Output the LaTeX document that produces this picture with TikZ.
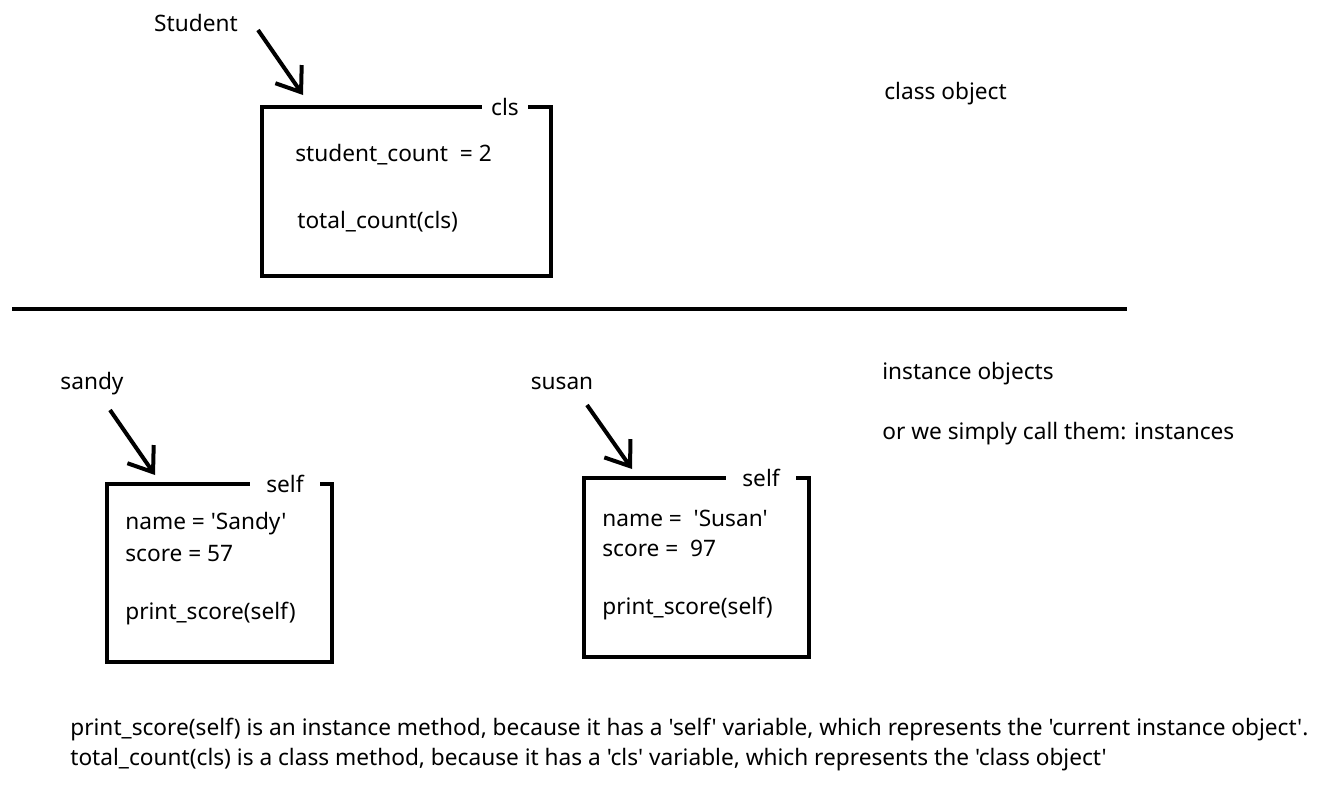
\documentclass[tikz,border=0pt]{standalone}
\usepackage{fontspec}
\setmainfont{Noto Sans}[Ligatures=TeXOff]
\usetikzlibrary{arrows.meta,calc,fit,positioning}

\begin{document}
\begin{tikzpicture}[
    x=0.02cm, y=-0.02cm,
    txt/.style={font=\fontsize{12.9}{15}\selectfont, inner sep=0pt, anchor=west, yshift=-0.05cm},
    objbox/.style={draw, line width=0.08cm, inner sep=0pt},
    tag/.style={font=\fontsize{12.9}{15}\selectfont, fill=white, inner sep=0pt, minimum height=0.5cm, yshift=-0.03cm},
    ptr/.style={line width=0.08cm, -{Straight Barb[length=0.44cm, width=0.64cm]}},
 ]
    \useasboundingbox (0,0) rectangle (1320,798);

    % class object
    \node[txt, anchor=center] (Student) at (196,20) {Student};
    \node[objbox, fit={(262,107) (551,276)}] (clsbox) {};
    \node[tag, minimum width=0.94cm] (clstag) at ($(clsbox.north west)+(245,0)$) {cls};
    \node[txt] (clsvar) at (295,152) {student\_count\ \ = 2};
    \node[txt] (clsmeth) at (297,219) {total\_count(cls)};
    \coordinate (clsfrom) at (258,30);
    \coordinate (clsptr) at ($(clsbox.north west)+(43,-10)$);
    \draw[ptr] (clsfrom) -- (clsptr);

    \node[txt] (classobj) at (884,91) {class object};

    % divider
    \coordinate (divL) at (12,309);
    \coordinate (divR) at (1127,309);
    \draw[line width=0.08cm] (divL) -- (divR);

    % instance sandy
    \node[txt, anchor=center] (sandy) at (92,381) {sandy};
    \node[objbox, fit={(107,484) (332,662)}] (sandybox) {};
    \node[tag, minimum width=1.4cm] (sandytag) at ($(sandybox.north west)+(180,0)$) {self};
    \node[txt] (sandyname) at (125,521) {name = 'Sandy'};
    \node[txt] (sandyscore) at (125,551) {score = 57};
    \node[txt] (sandymeth) at (125,611) {print\_score(self)};
    \coordinate (sandyfrom) at (110,410);
    \coordinate (sandyptr) at ($(sandybox.north west)+(50,-7)$);
    \draw[ptr] (sandyfrom) -- (sandyptr);

    % instance susan
    \node[txt, anchor=center] (susan) at (562,381) {susan};
    \node[objbox, fit={(584,478) (809,657)}] (susanbox) {};
    \node[tag, minimum width=1.4cm] (susantag) at ($(susanbox.north west)+(179,0)$) {self};
    \node[txt] (susanname) at (602,516) {name =\ \ 'Susan'};
    \node[txt] (susanscore) at (602,546) {score =\ \ 97};
    \node[txt] (susanmeth) at (602,606) {print\_score(self)};
    \coordinate (susanfrom) at (587,405);
    \coordinate (susanptr) at ($(susanbox.north west)+(50,-7)$);
    \draw[ptr] (susanfrom) -- (susanptr);

    \node[txt] (instobj) at (882,371) {instance objects};
    \node[txt] (instalt) at (882,431) {or we simply call them: instances};

    % notes
    \node[txt] (note1) at (70,727) {print\_score(self) is an instance method, because it has a 'self' variable, which represents the 'current instance object'.};
    \node[txt] (note2) at (70,757) {total\_count(cls) is a class method, because it has a 'cls' variable, which represents the 'class object'};
\end{tikzpicture}
\end{document}
